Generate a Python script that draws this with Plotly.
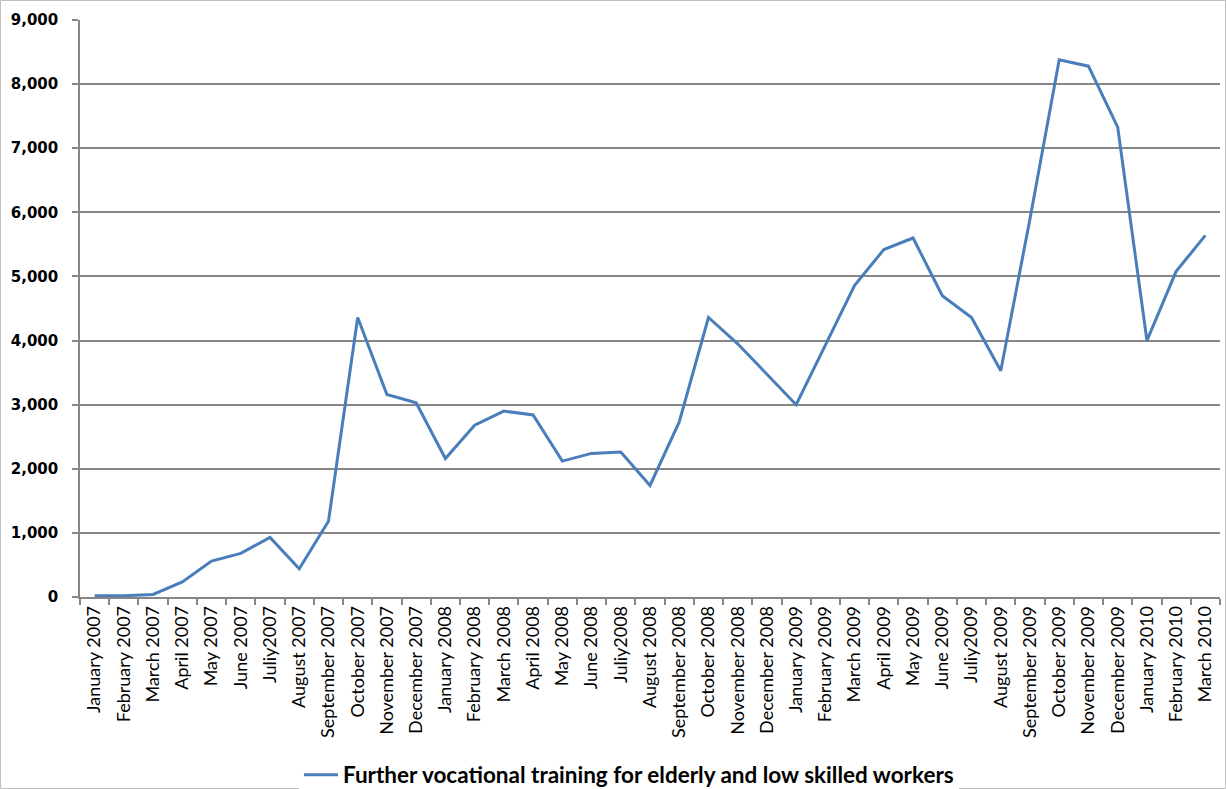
import plotly.graph_objects as go

months = ["January 2007", "February 2007", "March 2007", "April 2007", "May 2007", "June 2007",
          "Juliy2007", "August 2007", "September 2007", "October 2007", "November 2007", "December 2007",
          "January 2008", "February 2008", "March 2008", "April 2008", "May 2008", "June 2008",
          "Juliy2008", "August 2008", "September 2008", "October 2008", "November 2008", "December 2008",
          "January 2009", "February 2009", "March 2009", "April 2009", "May 2009", "June 2009",
          "Juliy2009", "August 2009", "September 2009", "October 2009", "November 2009", "December 2009",
          "January 2010", "February 2010", "March 2010"]

values = [20, 20, 40, 235, 560, 680, 930, 440, 1180, 4360, 3160, 3030,
          2160, 2680, 2900, 2840, 2120, 2240, 2260, 1740, 2730, 4360, 3950, 3480,
          3000, 3930, 4860, 5420, 5600, 4700, 4360, 3530, 5900, 8380, 8280, 7330,
          4000, 5080, 5640]

series_name = "Further vocational training for elderly and low skilled workers"
y_ticks = [0, 1000, 2000, 3000, 4000, 5000, 6000, 7000, 8000, 9000]
y_labels = ["0", "1,000", "2,000", "3,000", "4,000", "5,000", "6,000", "7,000", "8,000", "9,000"]

fig = go.Figure()
fig.add_trace(go.Scatter(
    x=months, y=values, mode="lines", name=series_name,
    line=dict(color="#4a7ebb", width=3),
    showlegend=True,
))

W, H = 1226, 789
ml, mr, mt, mb = 80, 6, 20, 192

fig.update_layout(
    width=W, height=H,
    margin=dict(l=ml, r=mr, t=mt, b=mb, autoexpand=False),
    paper_bgcolor="white", plot_bgcolor="white",
    showlegend=True,
    legend=dict(orientation="h", xref="container", yref="container",
                x=0.513, xanchor="center", y=(H - 775) / H, yanchor="middle",
                font=dict(family="Lato", size=22.5, color="black", weight="bold"),
                itemwidth=34),
    xaxis=dict(
        type="category", range=[-0.5, len(months) - 0.5], automargin=False,
        tickangle=-90, tickson="boundaries", ticks="outside", ticklen=6,
        tickcolor="#868686", tickwidth=1.5,
        showline=True, linecolor="#868686", linewidth=1.5,
        showgrid=False,
        tickfont=dict(family="Lato", size=18, color="black"),
    ),
    yaxis=dict(
        range=[0, 9000], tickvals=y_ticks, ticktext=y_labels, automargin=False,
        ticks="outside", ticklen=6, tickcolor="#868686", tickwidth=1.5,
        ticklabelstandoff=11,
        showline=True, linecolor="#868686", linewidth=1.5,
        showgrid=True, gridcolor="#868686", gridwidth=1.5,
        zeroline=False,
        tickfont=dict(family="DejaVu Sans", size=15, color="black", weight="bold"),
    ),
)

# outer chart border
pw = W - ml - mr
ph = H - mt - mb
fig.add_shape(type="rect", xref="paper", yref="paper",
              x0=(0.5 - ml) / pw, x1=(W - 0.5 - ml) / pw,
              y0=-(mb - 0.5) / ph, y1=1 + (mt - 0.5) / ph,
              line=dict(color="#bfbfbf", width=1), fillcolor="rgba(0,0,0,0)", layer="below")

fig.write_html("out.html", config={"displayModeBar": False},
               post_script="document.body.style.margin='0px';document.body.style.overflow='hidden';")
